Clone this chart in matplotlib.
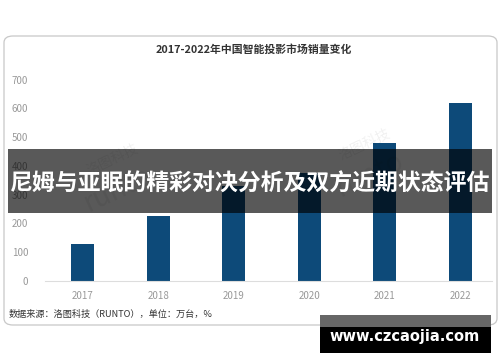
import matplotlib
matplotlib.use("Agg")
import matplotlib.pyplot as plt
from matplotlib.patches import Rectangle, FancyBboxPatch

plt.rcParams['font.family'] = ['Noto Sans CJK SC', 'DejaVu Sans']

years = ['2017', '2018', '2019', '2020', '2021', '2022']
sales = [127, 227, 330, 376, 481, 619]
yticks = [0, 100, 200, 300, 400, 500, 600, 700]

title = '2017-2022年中国智能投影市场销量变化'
source = '数据来源：洛图科技（RUNTO），单位：万台，%'
banner = '尼姆与亚眠的精彩对决分析及双方近期状态评估'
site = 'www.czcaojia.com'

W, H = 500, 362
fig = plt.figure(figsize=(W / 100, H / 100), dpi=100)


def fx(px):
    return px / W


def fy(py):
    return 1 - py / H


# rounded card behind the chart
card = FancyBboxPatch((fx(4), fy(325)), fx(493), fy(36) - fy(325),
                      boxstyle="round,pad=0,rounding_size=0.018",
                      transform=fig.transFigure, facecolor='white',
                      edgecolor='#c8c8c8', linewidth=0.9, zorder=-1)
fig.patches.append(card)

ax = fig.add_axes([fx(45), fy(281), fx(498) - fx(45), fy(79.5) - fy(281)])
ax.set_facecolor('none')
ax.bar(years, sales, width=0.31, color='#0d4a79', zorder=2)
ax.set_xlim(-0.5, 5.5)
ax.set_ylim(0, 700)
ax.set_yticks(yticks)
for s in ['top', 'right', 'left']:
    ax.spines[s].set_visible(False)
ax.spines['bottom'].set_color('#dddddd')
ax.spines['bottom'].set_bounds(-0.5, 5.42)
ax.tick_params(axis='both', length=0, colors='#999999', labelsize=7)
ax.tick_params(axis='x', pad=7)
ax.tick_params(axis='y', pad=12)

# faint runto watermarks
for x, y in [(118, 190), (370, 175)]:
    fig.text(fx(x), fy(y), 'runto', fontsize=20, color='#000000', alpha=0.06,
             rotation=25, ha='center', va='center', style='italic')
    fig.text(fx(x - 5), fy(y - 30), '洛图科技', fontsize=10, color='#000000',
             alpha=0.06, rotation=25, ha='center', va='center')

fig.text(fx(254), fy(50), title, fontsize=7.8, fontweight='bold',
         color='#333333', ha='center', va='center')
fig.text(fx(9), fy(314), source, fontsize=6.6, color='#333333',
         ha='left', va='center')

# dark banner across the middle
fig.patches.append(Rectangle((fx(8), fy(213)), fx(484), fy(149) - fy(213),
                             transform=fig.transFigure, facecolor='black',
                             alpha=0.65, edgecolor='none', zorder=5))
fig.text(fx(250), fy(184), banner, fontsize=16.5, fontweight='bold',
         color='white', ha='center', va='center', zorder=6)

# site stamp bottom right
fig.patches.append(Rectangle((fx(320), fy(327)), fx(171), fy(315) - fy(327),
                             transform=fig.transFigure, facecolor='#666666',
                             edgecolor='none', zorder=5))
fig.patches.append(Rectangle((fx(320), fy(353)), fx(171), fy(327) - fy(353),
                             transform=fig.transFigure, facecolor='black',
                             edgecolor='none', zorder=5))
fig.text(fx(405), fy(337), site, fontsize=10.5, fontweight='bold',
         color='white', ha='center', va='center', zorder=6,
         family='DejaVu Sans')

fig.savefig('out.png', dpi=100, facecolor='white')
